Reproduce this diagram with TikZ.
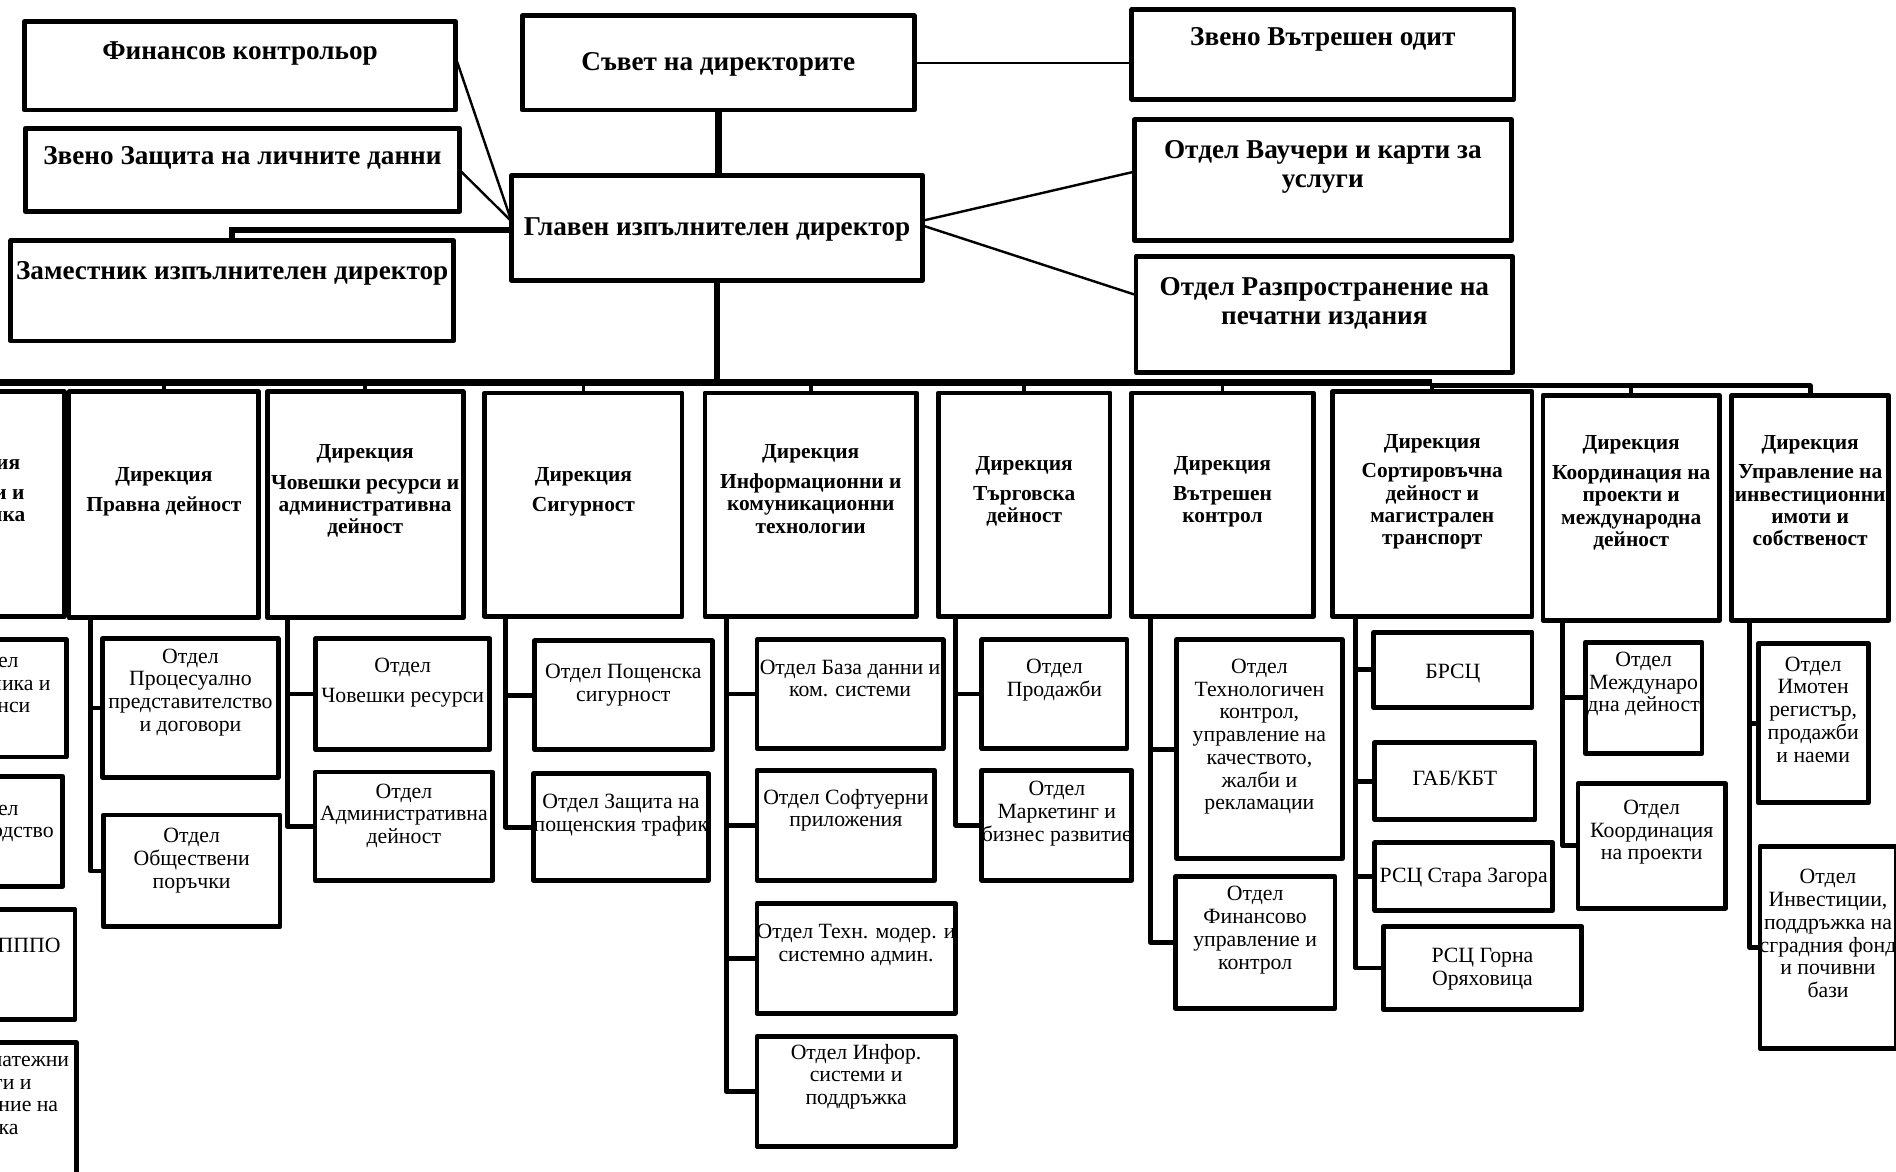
\documentclass[tikz,border=0pt]{standalone}
\usepackage{fontspec}
\setmainfont{Liberation Serif}
\tikzset{
  x=0.5pt, y=-0.5pt,
  bx/.style={draw, line width=2pt, rectangle, inner sep=0pt, outer sep=0pt, line join=round},
  tt/.style={font=\bfseries\fontsize{11.25}{12}\selectfont, inner sep=0pt},
  dt/.style={font=\bfseries\fontsize{8.85}{9.25}\selectfont, inner sep=0pt},
  rt/.style={font=\fontsize{9}{9.4}\selectfont, inner sep=0pt},
  conn/.style={line width=2pt, line join=round},
  dropl/.style={line width=1.6pt},
  mainl/.style={line width=2.8pt},
  thinl/.style={line width=1pt},
}
\newcommand\mkbox[8]{%
  \node[bx, minimum width={((#4)-(#2))*0.5pt}, minimum height={((#5)-(#3))*0.5pt}] (#1) at ({((#2)+(#4))/2},{((#3)+(#5))/2}) {};
  \node[#6, anchor=base] (#1-t) at ({((#2)+(#4))/2},#7) {\begin{tabular}[t]{@{}c@{}}#8\end{tabular}};
}
\begin{document}
\begin{tikzpicture}
\useasboundingbox (0,0) rectangle (1568,969);
\fill[white] (0,0) rectangle (1568,969);
\clip (0,0) rectangle (1568,969);

% top level
\mkbox{fin}{20}{18}{377}{91}{tt}{49}{Финансов контрольор}
\mkbox{zash}{21}{106}{380}{175}{tt}{136}{Звено Защита на личните данни}
\mkbox{zam}{9}{199}{375}{282}{tt}{231}{Заместник изпълнителен директор}
\mkbox{sovet}{432}{13}{756}{91}{tt}{58}{Съвет на директорите}
\mkbox{glaven}{423}{145}{763}{232}{tt}{195}{Главен изпълнителен директор}
\mkbox{odit}{936}{8}{1252}{82}{tt}{38}{Звено Вътрешен одит}
\mkbox{vauch}{938}{99}{1250}{199}{tt}{131}{Отдел Ваучери и карти за\\услуги}
\mkbox{razpr}{939.5}{212}{1251}{308}{tt}{244}{Отдел Разпространение на\\печатни издания}

% directorates
\mkbox{d1}{-100}{324}{53}{510}{dt}{388}{Дирекция\\[3.25pt]Финанси и\\икономика}
\mkbox{d2}{57}{324}{214}{511}{dt}{398}{Дирекция\\[3.25pt]Правна дейност}
\mkbox{d3}{221}{324}{383}{511}{dt}{379.5}{Дирекция\\[3.25pt]Човешки ресурси и\\административна\\дейност}
\mkbox{d4}{401}{325}{564}{510}{dt}{398}{Дирекция\\[3.25pt]Сигурност}
\mkbox{d5}{583}{325}{758}{510}{dt}{379}{Дирекция\\[3.25pt]Информационни и\\комуникационни\\технологии}
\mkbox{d6}{776}{325}{918}{510}{dt}{389}{Дирекция\\[3pt]Търговска\\дейност}
\mkbox{d7}{936}{325}{1086}{510}{dt}{389}{Дирекция\\[3pt]Вътрешен\\контрол}
\mkbox{d8}{1102}{324}{1267}{510}{dt}{370.5}{Дирекция\\[3pt]Сортировъчна\\дейност и\\магистрален\\транспорт}
\mkbox{d9}{1276}{327}{1422}{513}{dt}{372}{Дирекция\\[3pt]Координация на\\проекти и\\международна\\дейност}
\mkbox{d10}{1432}{327}{1562}{513}{dt}{371.5}{Дирекция\\[3pt]Управление на\\инвестиционни\\имоти и\\собственост}

% departments
\mkbox{s1a}{-71}{529}{55}{626}{rt}{552}{Отдел\\Икономика и\\финанси}
\mkbox{s1b}{-68}{642}{52}{733}{rt}{674}{Отдел\\Счетоводство}
\mkbox{s1c}{-65}{752}{62}{843}{rt}{788}{Отдел ПППО}
\mkbox{s1d}{-77}{862}{63}{990}{rt}{882}{Отдел Платежни\\услуги и\\управление на\\марка}

\mkbox{s2a}{85}{528}{230}{643}{rt}{548.5}{Отдел\\Процесуално\\представителство\\и договори}
\mkbox{s2b}{85.5}{674}{231.5}{766.5}{rt}{697}{Отдел\\Обществени\\поръчки}
\mkbox{s3a}{261}{528}{405}{620}{rt}{556.5}{Отдел\\[3pt]Човешки ресурси}
\mkbox{s3b}{260.5}{638.5}{407.5}{728}{rt}{660}{Отдел\\Административна\\дейност}
\mkbox{s4a}{442}{530}{589}{620}{rt}{561}{Отдел Пощенска\\сигурност}
\mkbox{s4b}{441}{640}{586}{728}{rt}{669}{Отдел Защита на\\пощенския трафик}
\mkbox{s5a}{626}{529}{780}{619}{rt}{557.5}{Отдел База данни и\\ком. системи}
\mkbox{s5b}{626}{637}{773}{728}{rt}{665}{Отдел Софтуерни\\приложения}
\mkbox{s5c}{626}{747}{790}{838}{rt}{776}{Отдел Техн. модер. и\\системно админ.}
\mkbox{s5d}{626}{857}{790}{948}{rt}{876}{Отдел Инфор.\\системи и\\поддръжка}
\mkbox{s6a}{812}{529}{932}{619}{rt}{557}{Отдел\\Продажби}
\mkbox{s6b}{812}{637}{936}{728}{rt}{658}{Отдел\\Маркетинг и\\бизнес развитие}
\mkbox{s7a}{973}{529}{1110}{710}{rt}{557}{Отдел\\Технологичен\\контрол,\\управление на\\качеството,\\жалби и\\рекламации}
\mkbox{s7b}{972}{725}{1104}{834}{rt}{745}{Отдел\\Финансово\\управление и\\контрол}
\mkbox{s8a}{1136}{523}{1267}{585}{rt}{561}{БРСЦ}
\mkbox{s8b}{1137}{614}{1269.5}{678}{rt}{650}{ГАБ/КБТ}
\mkbox{s8c}{1137}{697}{1284}{753}{rt}{730}{РСЦ Стара Загора}
\mkbox{s8d}{1144}{766}{1308}{835}{rt}{796}{РСЦ Горна\\Оряховица}
\mkbox{s9a}{1311}{531}{1407.5}{623}{rt}{551}{Отдел\\Междунаро\\дна дейност}
\mkbox{s9b}{1305}{648}{1427}{751}{rt}{673.5}{Отдел\\Координация\\на проекти}
\mkbox{s10a}{1454}{532}{1545}{664}{rt}{555}{Отдел\\Имотен\\регистър,\\продажби\\и наеми}
\mkbox{s10b}{1455.5}{700}{1568}{867}{rt}{731}{Отдел\\Инвестиции,\\поддръжка на\\сградния фонд\\и почивни\\бази}

% top connectors
\draw[mainl] (sovet.south) -- (sovet.south |- glaven.north);
\draw[thinl] (sovet.east) -- (odit.west |- sovet.east);
\draw[thinl] ([yshift=3.25pt]fin.east) -- ([yshift=2.75pt]glaven.west);
\draw[thinl] (zash.east) -- ([yshift=2.75pt]glaven.west);
\draw[line width=2.5pt] ([yshift=-1pt]glaven.west) -| (zam.north);
\draw[thinl] ([yshift=3pt]glaven.east) -- ([yshift=3.5pt]vauch.west);
\draw[thinl] ([yshift=1pt]glaven.east) -- ([yshift=8pt]razpr.west);

% bus
\coordinate (bus) at (0,316.5);
\coordinate (bus2) at (0,319);
\draw[mainl] (glaven.south) -- (glaven.south |- bus);
\draw[mainl] (d1.north |- bus) -- (d8.north |- bus);
\draw[conn] (d8.north |- bus2) -| (d10.north);
\foreach \d in {d1,d2,d3,d4,d5,d6,d7,d8}{\draw[dropl] (\d.north) -- (\d.north |- bus);}
\draw[dropl] (d9.north) -- (d9.north |- bus2);

% sub connectors
\coordinate (v1) at (-88,0);
\coordinate (v2) at (74.5,0);
\coordinate (v3) at (237.5,0);
\coordinate (v4) at (418,0);
\coordinate (v5) at (600.5,0);
\coordinate (v6) at (790.5,0);
\coordinate (v7) at (951.5,0);
\coordinate (v8) at (1121,0);
\coordinate (v9) at (1292.5,0);
\coordinate (v10) at (1447,0);
\foreach \d/\v/\s in {d1/v1/s1a,d1/v1/s1b,d1/v1/s1c,d1/v1/s1d,
  d2/v2/s2a,d2/v2/s2b,d3/v3/s3a,d3/v3/s3b,d4/v4/s4a,d4/v4/s4b,
  d5/v5/s5a,d5/v5/s5b,d5/v5/s5c,d5/v5/s5d,d6/v6/s6a,d6/v6/s6b,
  d7/v7/s7a,d7/v7/s7b,d8/v8/s8a,d8/v8/s8b,d8/v8/s8c,d8/v8/s8d,
  d9/v9/s9a,d9/v9/s9b,d10/v10/s10a,d10/v10/s10b}{
  \draw[conn] (\v |- \d.south) |- (\s.west);
}
\end{tikzpicture}
\end{document}
